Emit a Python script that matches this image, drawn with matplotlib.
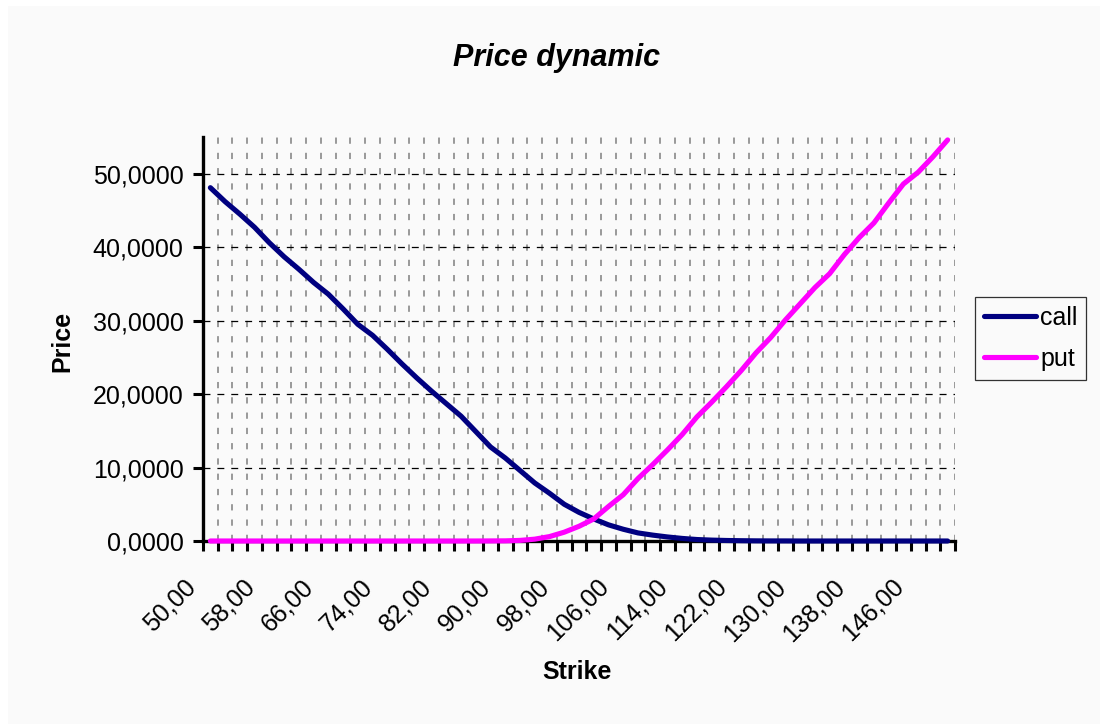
"""Call / put price against strike, drawn as a line chart."""

import matplotlib

matplotlib.use("Agg")
import matplotlib.pyplot as plt
from matplotlib.patches import Rectangle
from matplotlib.transforms import ScaledTranslation
import numpy as np

plt.rcParams["font.family"] = ["Liberation Sans", "DejaVu Sans"]
plt.rcParams["lines.scale_dashes"] = False

STRIKES = [
    50, 52, 54, 56, 58, 60, 62, 64, 66, 68,
    70, 72, 74, 76, 78, 80, 82, 84, 86, 88,
    90, 92, 94, 96, 98, 100, 102, 104, 106, 108,
    110, 112, 114, 116, 118, 120, 122, 124, 126, 128,
    130, 132, 134, 136, 138, 140, 142, 144, 146, 148,
    150,
]

CALL = [
    48.1, 46.2, 44.5, 42.7, 40.6, 38.7, 37.0, 35.2, 33.6, 31.6,
    29.5, 28.0, 26.1, 24.1, 22.2, 20.4, 18.7, 17.0, 14.9, 12.8,
    11.3, 9.6, 7.9, 6.5, 5.0, 3.9, 3.0, 2.2, 1.6, 1.1,
    0.8, 0.55, 0.35, 0.2, 0.12, 0.07, 0.04, 0.02, 0.01, 0.01,
    0.0, 0.0, 0.0, 0.0, 0.0, 0.0, 0.0, 0.0, 0.0, 0.0,
    0.0,
]

PUT = [
    0.0, 0.0, 0.0, 0.0, 0.0, 0.0, 0.0, 0.0, 0.0, 0.0,
    0.0, 0.0, 0.0, 0.0, 0.0, 0.0, 0.0, 0.0, 0.0, 0.01,
    0.02, 0.08, 0.25, 0.6, 1.2, 2.0, 3.0, 4.7, 6.3, 8.5,
    10.4, 12.4, 14.5, 16.9, 18.9, 21.0, 23.2, 25.6, 27.7, 30.1,
    32.3, 34.5, 36.4, 39.0, 41.3, 43.3, 46.0, 48.6, 50.2, 52.3,
    54.6,
]

Y_TICKS = [0, 10, 20, 30, 40, 50]

W, H = 1100, 724
FS = 18

fig = plt.figure(figsize=(W / 100, H / 100), dpi=100)
fig.patch.set_facecolor("white")
fig.patches.append(
    Rectangle((8 / W, 0), 1, 1 - 6 / H, transform=fig.transFigure,
              facecolor="#fafafa", edgecolor="none", zorder=-10)
)

ax = fig.add_axes([203 / W, 1 - 541 / H, 752 / W, 404 / H])
ax.set_facecolor("none")

x = np.arange(len(STRIKES))
ax.plot(x, CALL, color="#000080", lw=3.7, label="call", zorder=4, clip_on=False,
        solid_joinstyle="round", solid_capstyle="round")
ax.plot(x, PUT, color="#ff00ff", lw=3.7, label="put", zorder=5, clip_on=False,
        solid_joinstyle="round", solid_capstyle="round")

ax.set_xlim(-0.5, len(STRIKES) - 0.5)
ax.set_ylim(0, 55)

# spines: only left and bottom, heavy black
for side in ("top", "right"):
    ax.spines[side].set_visible(False)
for side in ("left", "bottom"):
    ax.spines[side].set_linewidth(2.4)
    ax.spines[side].set_zorder(3)

# y axis
ax.set_yticks(Y_TICKS)
ax.set_yticklabels([f"{v:.4f}".replace(".", ",") for v in Y_TICKS], fontsize=FS)
ax.tick_params(axis="y", which="major", direction="out", length=7, width=2.2, pad=7)

# x axis: tick marks between categories, labels every 4th category
ax.set_xticks(np.arange(-0.5, len(STRIKES), 1), minor=True)
ax.set_xticks(x[::4])
ax.set_xticklabels([f"{s:.2f}".replace(".", ",") for s in STRIKES[::4]],
                   fontsize=FS, rotation=45, ha="right", va="top")
ax.tick_params(axis="x", which="minor", direction="out", length=7, width=2.2)
ax.tick_params(axis="x", which="major", length=0, pad=24)
shift = ScaledTranslation(-10 / 100, 0, fig.dpi_scale_trans)
for lbl in ax.get_xticklabels():
    lbl.set_transform(lbl.get_transform() + shift)

# grid
ax.grid(which="minor", axis="x", color="#7f7f7f", lw=1.1, linestyle=(0, (4.5, 6.5)))
ax.grid(which="major", axis="y", color="black", lw=0.9, linestyle=(0, (5, 5)))
ax.set_axisbelow(True)

fig.text(557 / W, 1 - 58 / H, "Price dynamic", fontsize=22, fontweight="bold",
         fontstyle="italic", ha="center", va="center")
fig.text(577 / W, 1 - 672 / H, "Strike", fontsize=FS, fontweight="bold",
         ha="center", va="center")
fig.text(62 / W, 1 - 341 / H, "Price", fontsize=FS, fontweight="bold",
         rotation=90, ha="center", va="center")

leg = fig.legend(loc="upper left", bbox_to_anchor=(975 / W, 1 - 297 / H),
                 borderaxespad=0, fontsize=FS, frameon=True, fancybox=False,
                 handlelength=2.1, handletextpad=0.15, labelspacing=0.7,
                 borderpad=0.35)
leg.get_frame().set_edgecolor("black")
leg.get_frame().set_linewidth(0.9)
leg.get_frame().set_facecolor("#fafafa")

fig.savefig("out.png", dpi=100, facecolor=fig.get_facecolor())
